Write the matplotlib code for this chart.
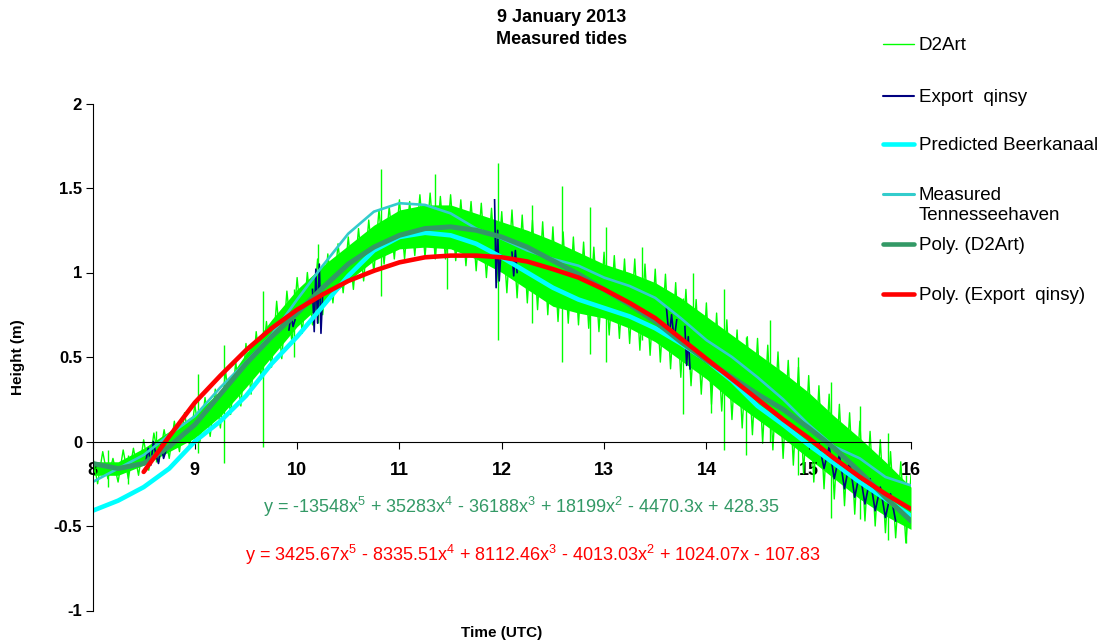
import numpy as np
import matplotlib
matplotlib.use("Agg")
import matplotlib.pyplot as plt
from matplotlib.lines import Line2D

plt.rcParams['font.family'] = ['Liberation Sans', 'DejaVu Sans']
plt.rcParams['mathtext.fontset'] = 'custom'
plt.rcParams['mathtext.rm'] = 'Liberation Sans'
plt.rcParams['mathtext.it'] = 'Liberation Sans'

# ---- data ----
# smooth curves sampled every 15 minutes, 8:00 - 16:00
t_quarter = np.linspace(8, 16, 33)
predicted_beerkanaal = [-0.41, -0.35, -0.27, -0.16, 0.00, 0.12, 0.27, 0.46, 0.62, 0.80,
                        0.98, 1.13, 1.21, 1.235, 1.22, 1.17, 1.09, 1.00, 0.91, 0.84,
                        0.79, 0.74, 0.67, 0.58, 0.48, 0.36, 0.21, 0.10, -0.02, -0.13,
                        -0.24, -0.34, -0.44]
measured_tennesseehaven = [-0.24, -0.16, -0.08, 0.04, 0.15, 0.32, 0.47, 0.63, 0.84, 1.04,
                           1.23, 1.36, 1.41, 1.40, 1.35, 1.26, 1.20, 1.13, 1.08, 1.04,
                           0.97, 0.92, 0.85, 0.73, 0.60, 0.50, 0.38, 0.25, 0.10, -0.03,
                           -0.10, -0.21, -0.26]
poly_d2art = [-0.13, -0.16, -0.13, -0.03, 0.10, 0.28, 0.46, 0.62, 0.76, 0.91,
              1.05, 1.15, 1.22, 1.26, 1.27, 1.25, 1.21, 1.15, 1.07, 0.99,
              0.90, 0.81, 0.71, 0.59, 0.48, 0.38, 0.28, 0.19, 0.08, -0.04,
              -0.18, -0.33, -0.47]
t_poly_qinsy = np.linspace(8.5, 16, 31)
poly_qinsy = [-0.18, 0.03, 0.23, 0.39, 0.54, 0.67, 0.78, 0.87, 0.95, 1.01,
              1.06, 1.09, 1.10, 1.10, 1.09, 1.065, 1.02, 0.97, 0.90, 0.82,
              0.73, 0.61, 0.49, 0.37, 0.25, 0.13, 0.02, -0.10, -0.21, -0.31, -0.40]

# D2Art: dense core of the noisy record (every 15 min) + raw trace every 3 min + spikes
d2art_lo = [-0.20, -0.20, -0.14, -0.06, 0.02, 0.15, 0.32, 0.50, 0.68, 0.82,
            0.95, 1.07, 1.14, 1.15, 1.14, 1.08, 1.00, 0.90, 0.80, 0.76,
            0.73, 0.67, 0.59, 0.48, 0.37, 0.24, 0.13, 0.02, -0.10, -0.22,
            -0.34, -0.44, -0.52]
d2art_hi = [-0.12, -0.12, -0.04, 0.06, 0.16, 0.30, 0.52, 0.72, 0.90, 1.04,
            1.16, 1.28, 1.37, 1.40, 1.40, 1.35, 1.30, 1.25, 1.19, 1.12,
            1.05, 1.00, 0.94, 0.85, 0.74, 0.63, 0.52, 0.41, 0.29, 0.15,
            0.02, -0.12, -0.27]
t_d2art = np.linspace(8, 16, 161)
d2art = [-0.08, -0.25, -0.06, -0.22, -0.10,
         -0.24, -0.05, -0.22, -0.04, -0.20,
         0.01, -0.17, 0.05, -0.12, 0.07,
         -0.10, 0.12, -0.06, 0.17, -0.03,
         0.22, 0.00, 0.26, 0.03, 0.31,
         0.08, 0.42, 0.16, 0.47, 0.21,
         0.58, 0.28, 0.65, 0.37, 0.71,
         0.44, 0.83, 0.49, 0.89, 0.58,
         0.97, 0.64, 1.00, 0.69, 1.08,
         0.75, 1.11, 0.82, 1.17, 0.88,
         1.21, 0.90, 1.26, 0.95, 1.31,
         1.00, 1.37, 1.05, 1.39, 1.08,
         1.43, 1.08, 1.42, 1.10, 1.46,
         1.09, 1.47, 1.08, 1.45, 1.08,
         1.46, 1.07, 1.43, 1.04, 1.42,
         1.01, 1.41, 0.97, 1.38, 0.94,
         1.36, 0.88, 1.37, 0.85, 1.34,
         0.82, 1.31, 0.78, 1.30, 0.75,
         1.27, 0.71, 1.24, 0.70, 1.21,
         0.69, 1.18, 0.67, 1.15, 0.65,
         1.12, 0.63, 1.10, 0.61, 1.08,
         0.58, 1.08, 0.54, 1.05, 0.51,
         1.02, 0.47, 0.99, 0.43, 0.94,
         0.38, 0.90, 0.33, 0.84, 0.28,
         0.82, 0.22, 0.76, 0.18, 0.72,
         0.13, 0.66, 0.08, 0.62, 0.04,
         0.61, -0.01, 0.57, -0.05, 0.53,
         -0.10, 0.48, -0.14, 0.44, -0.19,
         0.39, -0.24, 0.33, -0.28, 0.28,
         -0.34, 0.22, -0.38, 0.17, -0.43,
         0.12, -0.47, 0.06, -0.50, 0.01,
         -0.54, -0.06, -0.57, -0.12, -0.60,
         -0.20]
spike_t = [8.15, 8.35, 8.62, 9.03, 9.29, 9.67, 9.97, 10.20, 10.82, 11.35,
           11.46, 11.96, 12.30, 12.59, 12.86, 13.02, 13.37, 13.77, 13.87, 14.05,
           14.17, 14.39, 14.62, 14.90, 15.22, 15.50, 15.78, 15.95]
spike_lo = [-0.27, -0.25, -0.12, -0.07, -0.13, -0.03, 0.50, 0.70, 0.86, 1.09,
            0.90, 0.60, 0.70, 0.47, 0.52, 0.47, 0.60, 0.16, 0.50, 0.17,
            -0.05, -0.08, 0.00, -0.20, -0.45, -0.46, -0.58, -0.60]
spike_hi = [-0.05, -0.08, 0.06, 0.40, 0.57, 0.89, 0.90, 1.17, 1.61, 1.58,
            1.30, 1.65, 1.40, 1.51, 1.39, 1.27, 1.15, 0.85, 1.00, 0.60,
            0.90, 0.62, 0.72, 0.50, 0.35, 0.21, 0.05, -0.20]

# Export qinsy: only short bursts are visible
nan = np.nan
qinsy_t = [8.52, 8.545, 8.57, 8.595, 8.62, 8.645, 8.67, 8.695, 8.72, nan,
           9.92, 9.94, 9.96, 9.98, nan,
           10.15, 10.167, 10.183, 10.20, 10.217, 10.233, 10.25, nan,
           11.93, 11.945, 11.96, 11.975, 11.99, nan,
           12.10, 12.117, 12.133, 12.15, nan,
           13.61, 13.635, 13.66, 13.685, 13.71, nan,
           13.79, 13.807, 13.823, 13.84, nan,
           15.10, 15.15, 15.20, 15.25, 15.30, 15.35, 15.40, 15.45,
           15.50, 15.55, 15.60, 15.65, 15.70, 15.75, 15.80, 15.85]
qinsy = [-0.12, -0.04, -0.14, 0.00, -0.08, -0.13, -0.02, -0.10, -0.05, nan,
         0.66, 0.75, 0.68, 0.72, nan,
         0.90, 0.65, 1.02, 0.70, 1.05, 0.64, 0.88, nan,
         1.43, 0.91, 1.25, 0.95, 1.10, nan,
         1.12, 0.98, 1.13, 1.00, nan,
         0.79, 0.62, 0.75, 0.60, 0.72, nan,
         0.68, 0.45, 0.62, 0.43, nan,
         -0.01, -0.16, -0.03, -0.22, -0.08, -0.28, -0.12, -0.33,
         -0.18, -0.37, -0.22, -0.41, -0.27, -0.45, -0.31, -0.47]

eq_d2art = "y = -13548x$^{5}$ + 35283x$^{4}$ - 36188x$^{3}$ + 18199x$^{2}$ - 4470.3x + 428.35"
eq_qinsy = "y = 3425.67x$^{5}$ - 8335.51x$^{4}$ + 8112.46x$^{3}$ - 4013.03x$^{2}$ + 1024.07x - 107.83"

LIME, NAVY, CYAN, TEAL, SEAGREEN, RED = "#00FF00", "#000080", "#00FFFF", "#33CCCC", "#339966", "#FF0000"

fig = plt.figure(figsize=(11.03, 6.43), dpi=100)
ax = fig.add_axes([92.5 / 1103, 32.5 / 643, 818.5 / 1103, 507 / 643])

ax.fill_between(t_quarter, d2art_lo, d2art_hi, color=LIME, lw=0)
ax.plot(t_d2art, d2art, color=LIME, lw=1.0)
ax.vlines(spike_t, spike_lo, spike_hi, color=LIME, lw=1.0)
ax.plot(qinsy_t, qinsy, color=NAVY, lw=1.2)
ax.plot(t_quarter, predicted_beerkanaal, color=CYAN, lw=3.3, solid_capstyle='round')
ax.plot(t_quarter, measured_tennesseehaven, color=TEAL, lw=1.9, solid_capstyle='round')
ax.plot(t_quarter, poly_d2art, color=SEAGREEN, lw=3.6, solid_capstyle='round')
ax.plot(t_poly_qinsy, poly_qinsy, color=RED, lw=3.3, solid_capstyle='round')

ax.set_xlim(8, 16)
ax.set_ylim(-1, 2)
ax.set_xticks(range(8, 17))
ax.set_yticks([-1, -0.5, 0, 0.5, 1, 1.5, 2])
ax.set_yticklabels(["-1", "-0.5", "0", "0.5", "1", "1.5", "2"])
ax.spines['bottom'].set_position(('data', 0))
ax.spines['top'].set_visible(False)
ax.spines['right'].set_visible(False)
ax.tick_params(axis='x', direction='out', length=5, pad=10, labelsize=13)
ax.tick_params(axis='y', direction='out', length=5, pad=2.5, labelsize=12)
for lab in ax.get_xticklabels() + ax.get_yticklabels():
    lab.set_fontweight('bold')

ax.set_xlabel("Time (UTC)", fontsize=11, fontweight='bold')
ax.xaxis.set_label_coords(0.5, -0.031)
ax.set_ylabel("Height (m)", fontsize=11, fontweight='bold')
ax.yaxis.set_label_coords(-0.0825, 0.5)

ax.text(12.19, -0.39, eq_d2art, color=SEAGREEN, fontsize=13, ha='center', va='center')
ax.text(12.30, -0.67, eq_qinsy, color=RED, fontsize=13, ha='center', va='center')

fig.text(562 / 1103, 1 - 17 / 643, "9 January 2013", ha='center', va='center',
         fontsize=13, fontweight='bold')
fig.text(562 / 1103, 1 - 40 / 643, "Measured tides", ha='center', va='center',
         fontsize=13, fontweight='bold')

# legend, laid out like the spreadsheet one
legend_rows = [(["D2Art"], LIME, 1.0, 44), (["Export  qinsy"], NAVY, 1.5, 96),
               (["Predicted Beerkanaal"], CYAN, 3.3, 144),
               (["Measured", "Tennesseehaven"], TEAL, 2.2, 194),
               (["Poly. (D2Art)"], SEAGREEN, 3.3, 244), (["Poly. (Export  qinsy)"], RED, 3.3, 294)]
for lines, col, lw, ypx in legend_rows:
    y = 1 - ypx / 643
    fig.add_artist(Line2D([883 / 1103, 914 / 1103], [y, y], color=col, lw=lw,
                          solid_capstyle='round', transform=fig.transFigure))
    for i, label in enumerate(lines):
        fig.text(919 / 1103, 1 - (ypx + 1 + 20 * i) / 643, label, fontsize=13.5,
                 va='center', ha='left')

fig.savefig("out.png", dpi=100)
